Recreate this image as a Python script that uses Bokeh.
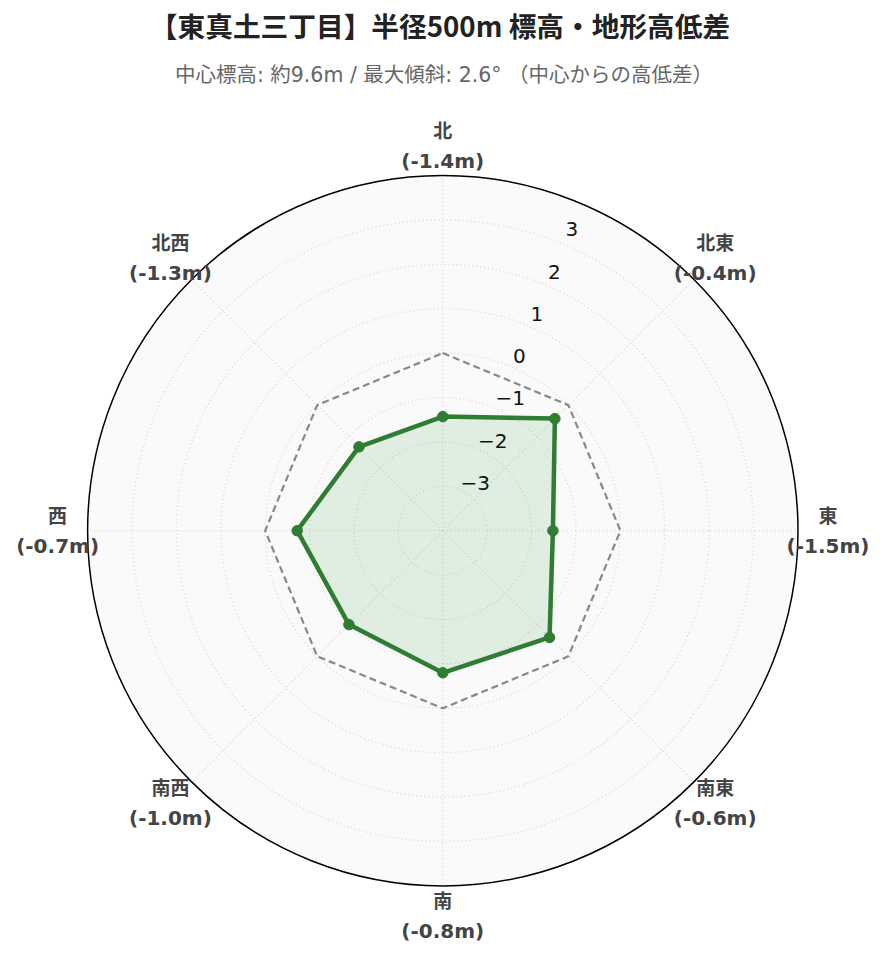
import numpy as np
from bokeh.plotting import figure
from bokeh.models import Label
from bokeh.core.properties import value
from bokeh.embed import file_html
from bokeh.resources import INLINE

# ---- data ----
directions = ["北", "北東", "東", "南東", "南", "南西", "西", "北西"]
bearings = [0, 45, 90, 135, 180, 225, 270, 315]
diffs = [-1.43, -0.43, -1.52, -0.60, -0.80, -1.01, -0.72, -1.33]
diff_labels = ["(-1.4m)", "(-0.4m)", "(-1.5m)", "(-0.6m)", "(-0.8m)", "(-1.0m)", "(-0.7m)", "(-1.3m)"]
radial_ticks = [-3, -2, -1, 0, 1, 2, 3]
radial_tick_labels = ["−3", "−2", "−1", "0", "1", "2", "3"]
r_min, r_max = -4, 4
reference_level = 0
title_text = "【東真土三丁目】半径500m 標高・地形高低差"
subtitle_text = "中心標高: 約9.6m / 最大傾斜: 2.6° （中心からの高低差）"

# ---- geometry ----
W, H = 869, 946
scale = 44.4          # px per radial unit
cx, cy_top = 442.3, 530.2
cy_bot = H - cy_top
x_range = (-cx / scale, (W - cx) / scale)
y_range = (-cy_bot / scale, cy_top / scale)

def to_xy(vals, brg):
    th = np.radians(90 - np.asarray(brg, dtype=float))
    r = np.asarray(vals, dtype=float) - r_min
    return r * np.cos(th), r * np.sin(th)

p = figure(width=W, height=H, x_range=x_range, y_range=y_range,
           output_backend="svg", toolbar_location=None,
           x_axis_location=None, y_axis_location=None, min_border=0)
p.grid.visible = False
p.outline_line_color = None
p.background_fill_color = "white"
p.border_fill_color = "white"

R = r_max - r_min
# polar background
p.circle(x=[0], y=[0], radius=[R], fill_color="#fafafa", line_color=None)

# grid circles
grid_r = [t - r_min for t in radial_ticks]
p.circle(x=[0] * len(grid_r), y=[0] * len(grid_r), radius=grid_r,
         fill_color=None, line_color="#d6d6d6", line_width=1.3, line_dash="1 3")

# radial grid lines
gx, gy = to_xy([r_max] * len(bearings), bearings)
p.segment(x0=[0] * len(bearings), y0=[0] * len(bearings), x1=gx, y1=gy,
          line_color="#d6d6d6", line_width=1.3, line_dash="1 3")

# outer circle
p.circle(x=[0], y=[0], radius=[R], fill_color=None, line_color="black", line_width=1.5)

# zero reference octagon
zx, zy = to_xy([reference_level] * len(bearings), bearings)
p.line(x=list(zx) + [zx[0]], y=list(zy) + [zy[0]], line_color="#888888",
       line_width=2.2, line_dash="7 4")

# data polygon
dx, dy = to_xy(diffs, bearings)
p.patch(x=list(dx), y=list(dy), fill_color="#4caf50", fill_alpha=0.15, line_color=None)
p.line(x=list(dx) + [dx[0]], y=list(dy) + [dy[0]], line_color="#2e7d32", line_width=4.5,
       line_join="round")
p.scatter(x=dx, y=dy, size=10.5, fill_color="#2e7d32", line_color="#2e7d32")

# radial tick labels along 22.5 deg (labels sit slightly outside each ring)
label_r = [(t - r_min) * 1.03 + r_min + 6 / scale for t in radial_ticks]
tx, ty = to_xy(label_r, [22.5] * len(radial_ticks))
p.text(x=tx, y=ty, text=radial_tick_labels, text_font=value("DejaVu Sans"),
       text_font_size="20px", text_color="#111111", text_align="left",
       text_baseline="middle", x_offset=-2)

# direction labels
lx, ly = to_xy([r_max + 30 / scale] * len(bearings), bearings)
lab_font = value("DejaVu Sans, Noto Sans CJK JP")
p.text(x=lx, y=ly, text=directions, text_font=lab_font, text_font_style="bold",
       text_font_size="19px", text_color="#444444", text_align="center",
       text_baseline="middle", y_offset=-15)
p.text(x=lx, y=ly, text=diff_labels, text_font=lab_font, text_font_style="bold",
       text_font_size="20px", text_color="#444444", text_align="center",
       text_baseline="middle", y_offset=15)

# titles
p.add_layout(Label(x=W / 2 + 5, y=H - 24, x_units="screen", y_units="screen",
                   text=title_text, text_font="Noto Sans CJK JP", text_font_style="bold",
                   text_font_size="27.7px", text_color="#222222", text_align="center",
                   text_baseline="middle"))
p.add_layout(Label(x=W / 2 + 9, y=H - 74, x_units="screen", y_units="screen",
                   text=subtitle_text, text_font="DejaVu Sans, Noto Sans CJK JP",
                   text_font_size="20.5px", text_color="#666666", text_align="center",
                   text_baseline="middle"))

open("out.html", "w").write(file_html(p, INLINE))
